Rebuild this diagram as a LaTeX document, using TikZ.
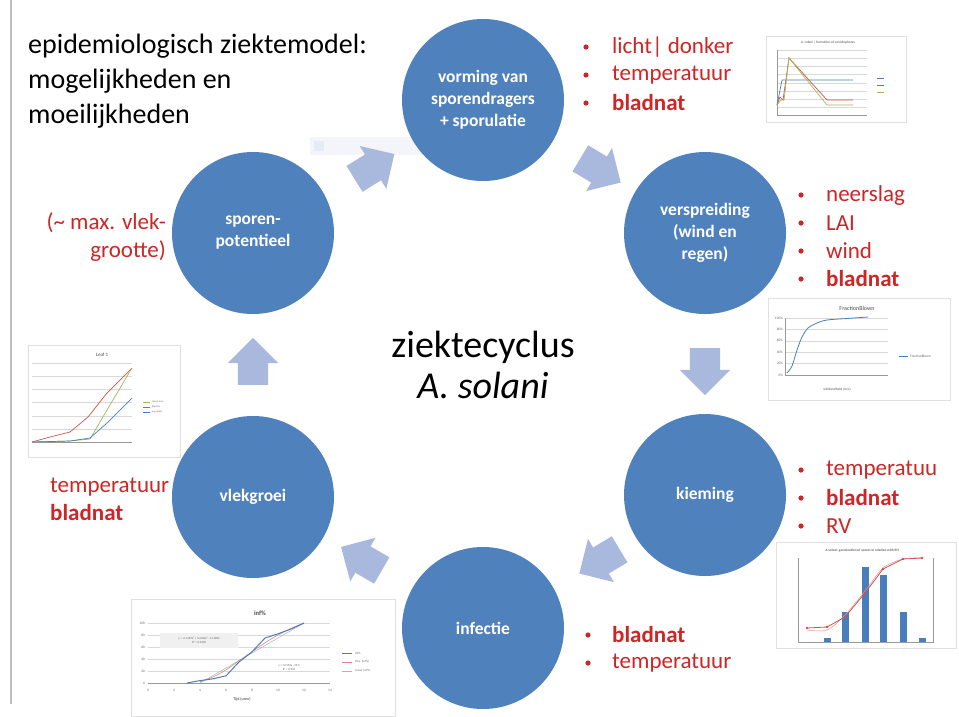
\documentclass[tikz,border=0pt]{standalone}
\usepackage{fontspec}
\setmainfont{Carlito}
\usetikzlibrary{shapes.arrows}
\usetikzlibrary{calc}

\definecolor{cyclus}{RGB}{79,129,189}
\definecolor{pijl}{RGB}{168,185,221}
\definecolor{rood}{RGB}{204,38,38}
\definecolor{rooster}{RGB}{217,217,217}
\definecolor{lijnblauw}{RGB}{74,126,187}
\definecolor{lijnrood}{RGB}{210,80,77}
\definecolor{lijngroen}{RGB}{155,187,89}

\begin{document}
\begin{tikzpicture}[x=1pt, y=-1pt,
  stage/.style={circle, fill=cyclus, minimum size=162pt, inner sep=0pt, text=white, align=center, font=\fontsize{17.5}{22}\selectfont\bfseries},
  flow/.style={single arrow, fill=pijl, minimum height=47pt, inner xsep=0pt, inner ysep=15pt, single arrow head extend=10pt},
  factor/.style={anchor=west, text=rood, inner sep=0pt, font=\fontsize{23}{27}\selectfont},
  kop/.style={anchor=base west, inner sep=0pt, font=\fontsize{28}{35}\selectfont},
  tiny/.style={inner sep=0pt, font=\fontsize{3.5}{4}\selectfont, text=black!60},
  kader/.style={draw=black!12, fill=white}]

\useasboundingbox (0,0) rectangle (959,716);
\fill[white] (0,0) rectangle (959,716);
\draw[black!25, line width=2pt] (11,0) -- (11,704);
\fill[pijl!14] (310,137) rectangle (475,155);
\fill[pijl!28] (314,141) rectangle (324,151);

\draw[kader] (766,36) rectangle (906,122);
\node[tiny, text=black!70] (titel1) at (828,43) {\textit{A. solani} | formation of conidiophores};
\draw[rooster] (777,50) -- (867,50) (777,58) -- (867,58) (777,66) -- (867,66) (777,74) -- (867,74) (777,83) -- (867,83) (777,91) -- (867,91) (777,99) -- (867,99) (777,107) -- (867,107);
\draw[black!40] (777,50) -- (777,115) -- (867,115);
\draw[lijnblauw, line width=0.7pt] (777,105) -- (782,80) -- (853,80);
\draw[lijnrood, line width=0.7pt] (777,105) -- (780,97) -- (783,100) -- (789,58) -- (827,100) -- (853,100);
\draw[lijngroen, line width=0.7pt] (777,105) -- (781,100) -- (784,100) -- (789,58) -- (827,105) -- (853,105);
\draw[lijnblauw, line width=0.7pt] (877,78) -- (884,78);
\draw[lijnrood, line width=0.7pt] (877,85) -- (884,85);
\draw[lijngroen, line width=0.7pt] (877,92) -- (884,92);

\draw[kader] (768,298) rectangle (950,400);
\node[font=\fontsize{6}{7}\selectfont, text=black!70, inner sep=0pt] (titel2) at (857,308) {FractionBlown};
\draw[rooster] (785,318) -- (888,318) (785,329.4) -- (888,329.4) (785,340.8) -- (888,340.8) (785,352.2) -- (888,352.2) (785,363.6) -- (888,363.6);
\draw[black!40] (785,318) -- (785,375) -- (888,375);
\node[tiny, anchor=east] (p100) at (783,318) {100\%};
\node[tiny, anchor=east] (p80) at (783,329.4) {80\%};
\node[tiny, anchor=east] (p60) at (783,340.8) {60\%};
\node[tiny, anchor=east] (p40) at (783,352.2) {40\%};
\node[tiny, anchor=east] (p20) at (783,363.6) {20\%};
\node[tiny, anchor=east] (p0) at (783,375) {0\%};
\draw[lijnblauw, line width=0.8pt] plot[smooth] coordinates {(787,373) (792,366) (797,350) (802,337) (808,328) (817,323) (827,320) (847,318.5) (868,317)};
\draw[lijnblauw, line width=0.8pt] (899,356) -- (908,356);
\node[tiny, anchor=west] (leg2) at (910,356) {FractionBlown};
\node[tiny, text=black!70] (as2) at (837,389) {windsnelheid (m/s)};

\draw[kader] (28,345) rectangle (180,457);
\node[font=\fontsize{5}{6}\selectfont, text=black!70, inner sep=0pt] (titel3) at (102,355) {Leaf 1};
\draw[rooster] (32,363) -- (132,363) (32,376.2) -- (132,376.2) (32,389.3) -- (132,389.3) (32,402.5) -- (132,402.5) (32,415.7) -- (132,415.7) (32,428.8) -- (132,428.8);
\draw[black!40] (32,442) -- (132,442);
\draw[lijnrood, line width=0.7pt] (32,442) -- (50,437) -- (70,432) -- (88,417) -- (107,393) -- (132,368);
\draw[lijngroen, line width=0.7pt] (32,442) -- (70,441) -- (90,439) -- (107,410) -- (132,368);
\draw[lijnblauw, line width=0.7pt] (32,442) -- (70,441) -- (90,438) -- (107,423) -- (132,398);
\draw[lijngroen, line width=0.7pt] (143,402) -- (150,402);
\draw[lijnrood, line width=0.7pt] (143,407) -- (150,407);
\draw[lijnblauw, line width=0.7pt] (143,412) -- (150,412);
\node[tiny, anchor=west, font=\fontsize{2.5}{3}\selectfont] (leg3a) at (152,402) {lesion area};
\node[tiny, anchor=west, font=\fontsize{2.5}{3}\selectfont] (leg3b) at (152,407) {\#lesions};
\node[tiny, anchor=west, font=\fontsize{2.5}{3}\selectfont] (leg3c) at (152,412) {avg.lesion};

\draw[kader] (131,599) rectangle (395,716);
\node[font=\fontsize{6.5}{7}\selectfont\bfseries, text=black!70, inner sep=0pt] (titel4) at (260,613) {inf\%};
\draw[rooster] (148,623) -- (330,623) (148,635) -- (330,635) (148,647) -- (330,647) (148,659) -- (330,659) (148,671) -- (330,671);
\draw[black!40] (148,683) -- (330,683);
\node[tiny, anchor=east] (v100) at (145,623) {100};
\node[tiny, anchor=east] (v80) at (145,635) {80};
\node[tiny, anchor=east] (v60) at (145,647) {60};
\node[tiny, anchor=east] (v40) at (145,659) {40};
\node[tiny, anchor=east] (v20) at (145,671) {20};
\node[tiny, anchor=east] (v0) at (145,683) {0};
\node[tiny] (u0) at (148,690) {0};
\node[tiny] (u2) at (174,690) {2};
\node[tiny] (u4) at (200,690) {4};
\node[tiny] (u6) at (226,690) {6};
\node[tiny] (u8) at (252,690) {8};
\node[tiny] (u10) at (278,690) {10};
\node[tiny] (u12) at (304,690) {12};
\node[tiny] (u14) at (330,690) {14};
\node[tiny, font=\fontsize{4}{5}\selectfont\bfseries] (as4) at (242,699) {Tijd (uren)};
\draw[black!30, line width=0.5pt] (200,683) -- (304,623);
\draw[lijnrood!70, line width=0.6pt] plot[smooth] coordinates {(200,681.8) (213,677) (226,669.8) (239,660.8) (252,651.8) (265,642.8) (278,635) (291,628.4) (304,623)};
\draw[lijnblauw, line width=1pt] (187,683) -- (200,680.6) -- (213,678.8) -- (226,675.8) -- (239,662) -- (252,651.8) -- (265,638) -- (278,633.8) -- (291,629) -- (304,623);
\fill[black!6] (160,633) rectangle (238,648);
\node[tiny, align=center, font=\fontsize{3}{4}\selectfont] (eq4a) at (199,640.5) {y = -0.1429x³ + 3.2182x² - 11.089x\\R² = 0.9358};
\node[tiny, align=center, font=\fontsize{3}{4}\selectfont] (eq4b) at (289,668) {y = 12.552x - 49.5\\R² = 0.944};
\draw[lijnblauw, line width=1pt] (342,653) -- (352,653);
\draw[lijnrood!70, line width=0.6pt] (342,662) -- (352,662);
\draw[black!30, line width=0.5pt] (342,671) -- (352,671);
\node[tiny, anchor=west, font=\fontsize{3}{4}\selectfont] (leg4a) at (355,653) {inf\%};
\node[tiny, anchor=west, font=\fontsize{3}{4}\selectfont] (leg4b) at (355,662) {Poly. (inf\%)};
\node[tiny, anchor=west, font=\fontsize{3}{4}\selectfont] (leg4c) at (355,671) {Linear (inf\%)};

\draw[kader] (776,542) rectangle (956,648);
\node[tiny, font=\fontsize{3.5}{4}\selectfont\bfseries] (titel5) at (862,551) {\textit{A.solani}: germination of spores in relation with RH};
\draw[black!40] (798,558) -- (798,642) -- (933,642) -- (933,558);
\fill[lijnblauw] (823.5,638) rectangle (830.5,642);
\fill[lijnblauw] (841.5,612) rectangle (848.5,642);
\fill[lijnblauw] (861.5,567) rectangle (868.5,642);
\fill[lijnblauw] (879.5,575) rectangle (886.5,642);
\fill[lijnblauw] (899.5,612) rectangle (906.5,642);
\fill[lijnblauw] (918.5,638) rectangle (925.5,642);
\draw[lijnrood!60, line width=0.5pt] plot[smooth] coordinates {(807,630) (827,630) (845,615) (865,591) (883,568) (903,559) (922,558)};
\draw[lijnrood, line width=0.8pt] (807,628) -- (827,627) -- (845,617) -- (865,593) -- (883,569) -- (903,559) -- (922,558);
\fill[lijnrood] (807,628) circle (1.3) (827,627) circle (1.3) (845,617) circle (1.3) (865,593) circle (1.3) (883,569) circle (1.3) (903,559) circle (1.3) (922,558) circle (1.3);

\node[kop] (kop1) at (28,53) {epidemiologisch ziektemodel:};
\node[kop] (kop2) at (28,88) {mogelijkheden en};
\node[kop] (kop3) at (28,123) {moeilijkheden};

\node[stage] (vorming) at (483,100) {vorming van\\sporendragers\\+ sporulatie};
\node[stage] (verspreiding) at (705,233) {verspreiding\\(wind en\\regen)};
\node[stage] (kieming) at (705,495) {kieming};
\node[stage] (infectie) at (483,628) {infectie};
\node[stage] (vlekgroei) at (253,497) {vlekgroei};
\node[stage] (potentieel) at (253,233) {sporen-\\potentieel};

\node[flow, rotate=32] (f1) at ($(potentieel)!0.5!(vorming)+(0,4)$) {};
\node[flow, rotate=-31] (f2) at ($(vorming)!0.5!(verspreiding)$) {};
\node[flow, rotate=-90] (f3) at ($(verspreiding)!0.5!(kieming)$) {};
\node[flow, rotate=-149] (f4) at ($(kieming)!0.5!(infectie)+(12,-4)$) {};
\node[flow, rotate=150] (f5) at ($(infectie)!0.5!(vlekgroei)$) {};
\node[flow, rotate=90] (f6) at ($(vlekgroei)!0.5!(potentieel)+(0,4)$) {};

\node[font=\fontsize{38}{38}\selectfont] (ziekte) at (483,347) {ziektecyclus};
\node[font=\fontsize{38}{38}\selectfont\itshape] (solani) at (483,385) {A. solani};

\fill[rood] (586,47) circle (2.6) (586,75) circle (2.6) (586,103) circle (2.6);
\node[factor] (licht) at (612,47) {licht| donker};
\node[factor] (temp1) at (612,75) {temperatuur};
\node[factor, font=\fontsize{23}{27}\selectfont\bfseries] (nat1) at (612,103) {bladnat};

\fill[rood] (801,195) circle (2.6) (801,223) circle (2.6) (801,251) circle (2.6) (801,279) circle (2.6);
\node[factor] (neerslag) at (826,195) {neerslag};
\node[factor] (lai) at (826,223) {LAI};
\node[factor] (wind) at (826,251) {wind};
\node[factor, font=\fontsize{23}{27}\selectfont\bfseries] (nat2) at (826,279) {bladnat};

\fill[rood] (801,470) circle (2.6) (801,498) circle (2.6) (801,526) circle (2.6);
\node[factor] (temp2) at (826,470) {temperatuu};
\node[factor, font=\fontsize{23}{27}\selectfont\bfseries] (nat3) at (826,498) {bladnat};
\node[factor] (rv) at (826,526) {RV};

\fill[rood] (588,635) circle (2.6) (588,663) circle (2.6);
\node[factor, font=\fontsize{23}{27}\selectfont\bfseries] (nat4) at (612,635) {bladnat};
\node[factor] (temp3) at (612,663) {temperatuur};

\node[factor] (temp4) at (50,487) {temperatuur};
\node[factor, font=\fontsize{23}{27}\selectfont\bfseries] (nat5) at (50,513) {bladnat};

\node[factor, anchor=east] (vlek1) at (166,223) {(\textasciitilde{} max. vlek-};
\node[factor, anchor=east] (vlek2) at (166,251) {grootte)};

\end{tikzpicture}
\end{document}
